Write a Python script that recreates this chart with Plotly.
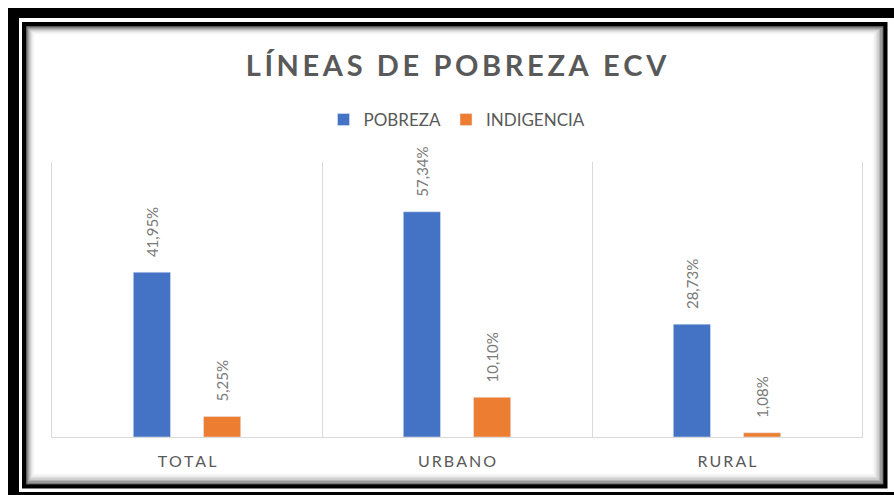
import plotly.graph_objects as go

categories = ["TOTAL", "URBANO", "RURAL"]
pobreza = [41.95, 57.34, 28.73]
indigencia = [5.25, 10.10, 1.08]
series_names = ["POBREZA", "INDIGENCIA"]
title_text = "LÍNEAS DE POBREZA ECV"

W_FIG, H_FIG = 894, 495
L, R, T, B = 52, 32, 162, 58
PW = W_FIG - L - R
PH = H_FIG - T - B
BARGAP, GROUPGAP = 0.48, 0.47

def px(x):
    return (x - L) / PW

def py(y):
    return (H_FIG - B - y) / PH

def fmt(v):
    return f"{v:.2f}".replace(".", ",") + "%"

def spaced(s, sep="\u2009"):
    return sep.join(list(s))

blue = "#4472C4"
orange = "#ED7D31"
label_font = dict(family="Lato", size=15, color="#7a7a7a")

fig = go.Figure()
fig.add_trace(go.Bar(x=categories, y=pobreza, name=series_names[0], marker_color=blue))
fig.add_trace(go.Bar(x=categories, y=indigencia, name=series_names[1], marker_color=orange))

# data labels, placed over each bar of the group
slot = PW / len(categories) * (1 - BARGAP) / 2
annotations = []
for values, shift in ((pobreza, -slot / 2), (indigencia, slot / 2)):
    for c, v in zip(categories, values):
        annotations.append(dict(
            x=c, y=v, xref="x", yref="y", text=fmt(v), showarrow=False,
            textangle=-90, xanchor="center", yanchor="bottom",
            xshift=shift, yshift=13, font=label_font,
        ))

shapes = []
# outer thick black band (left, top, bottom)
shapes.append(dict(type="rect", xref="paper", yref="paper",
                   x0=px(8), x1=px(19), y0=py(495), y1=py(8),
                   fillcolor="black", line_width=0, layer="above"))
shapes.append(dict(type="rect", xref="paper", yref="paper",
                   x0=px(8), x1=px(894), y0=py(18), y1=py(8),
                   fillcolor="black", line_width=0, layer="above"))
shapes.append(dict(type="rect", xref="paper", yref="paper",
                   x0=px(8), x1=px(894), y0=py(495), y1=py(492),
                   fillcolor="black", line_width=0, layer="above"))
# inner shadow gradient
grays = ["#505050", "#7a7a7a", "#9a9a9a", "#b5b5b5", "#cccccc", "#dedede", "#ececec", "#f6f6f6"]
for i, g in enumerate(grays):
    o = 26 + i
    shapes.append(dict(type="rect", xref="paper", yref="paper",
                       x0=px(o + 0.5), x1=px(884 - i * 1.4 - 0.5),
                       y0=py(485 - i * 1.4 - 0.5), y1=py(o + 0.5),
                       line=dict(color=g, width=1.6), fillcolor="rgba(0,0,0,0)", layer="below"))
# inner black line
shapes.append(dict(type="rect", xref="paper", yref="paper",
                   x0=px(24), x1=px(885.5), y0=py(486.5), y1=py(24),
                   line=dict(color="black", width=4), fillcolor="rgba(0,0,0,0)", layer="above"))

fig.update_layout(
    width=W_FIG, height=H_FIG,
    margin=dict(l=L, r=R, t=T, b=B),
    paper_bgcolor="white", plot_bgcolor="white",
    barmode="group", bargap=BARGAP, bargroupgap=GROUPGAP,
    title=dict(text=spaced(title_text), x=px(456), xanchor="center",
               xref="paper", y=1 - 66 / H_FIG, yanchor="middle",
               font=dict(family="Lato", size=29, color="#595959", weight="bold")),
    legend=dict(orientation="h", x=0.5, xanchor="center", y=py(120), yanchor="middle",
                font=dict(family="Lato", size=17, color="#595959"),
                itemwidth=30, bgcolor="rgba(0,0,0,0)"),
    showlegend=True,
    shapes=shapes,
    annotations=annotations,
    font=dict(family="Lato", color="#595959"),
)
fig.update_xaxes(
    tickmode="array", tickvals=categories, ticktext=[spaced(c) for c in categories],
    tickson="boundaries", ticks="", showgrid=True, gridcolor="#d9d9d9", gridwidth=1,
    showline=True, linecolor="#d9d9d9", linewidth=1,
    tickfont=dict(family="Lato", size=16, color="#595959"),
    ticklabelstandoff=10, zeroline=False,
)
fig.update_yaxes(range=[0, 70], showticklabels=False, showgrid=False,
                 zeroline=False, showline=True, linecolor="#d9d9d9", linewidth=1,
                 mirror=True, ticks="")

fig.write_html("out.html", config={"displayModeBar": False},
               post_script="document.body.style.margin='0';document.body.style.overflow='hidden';")
